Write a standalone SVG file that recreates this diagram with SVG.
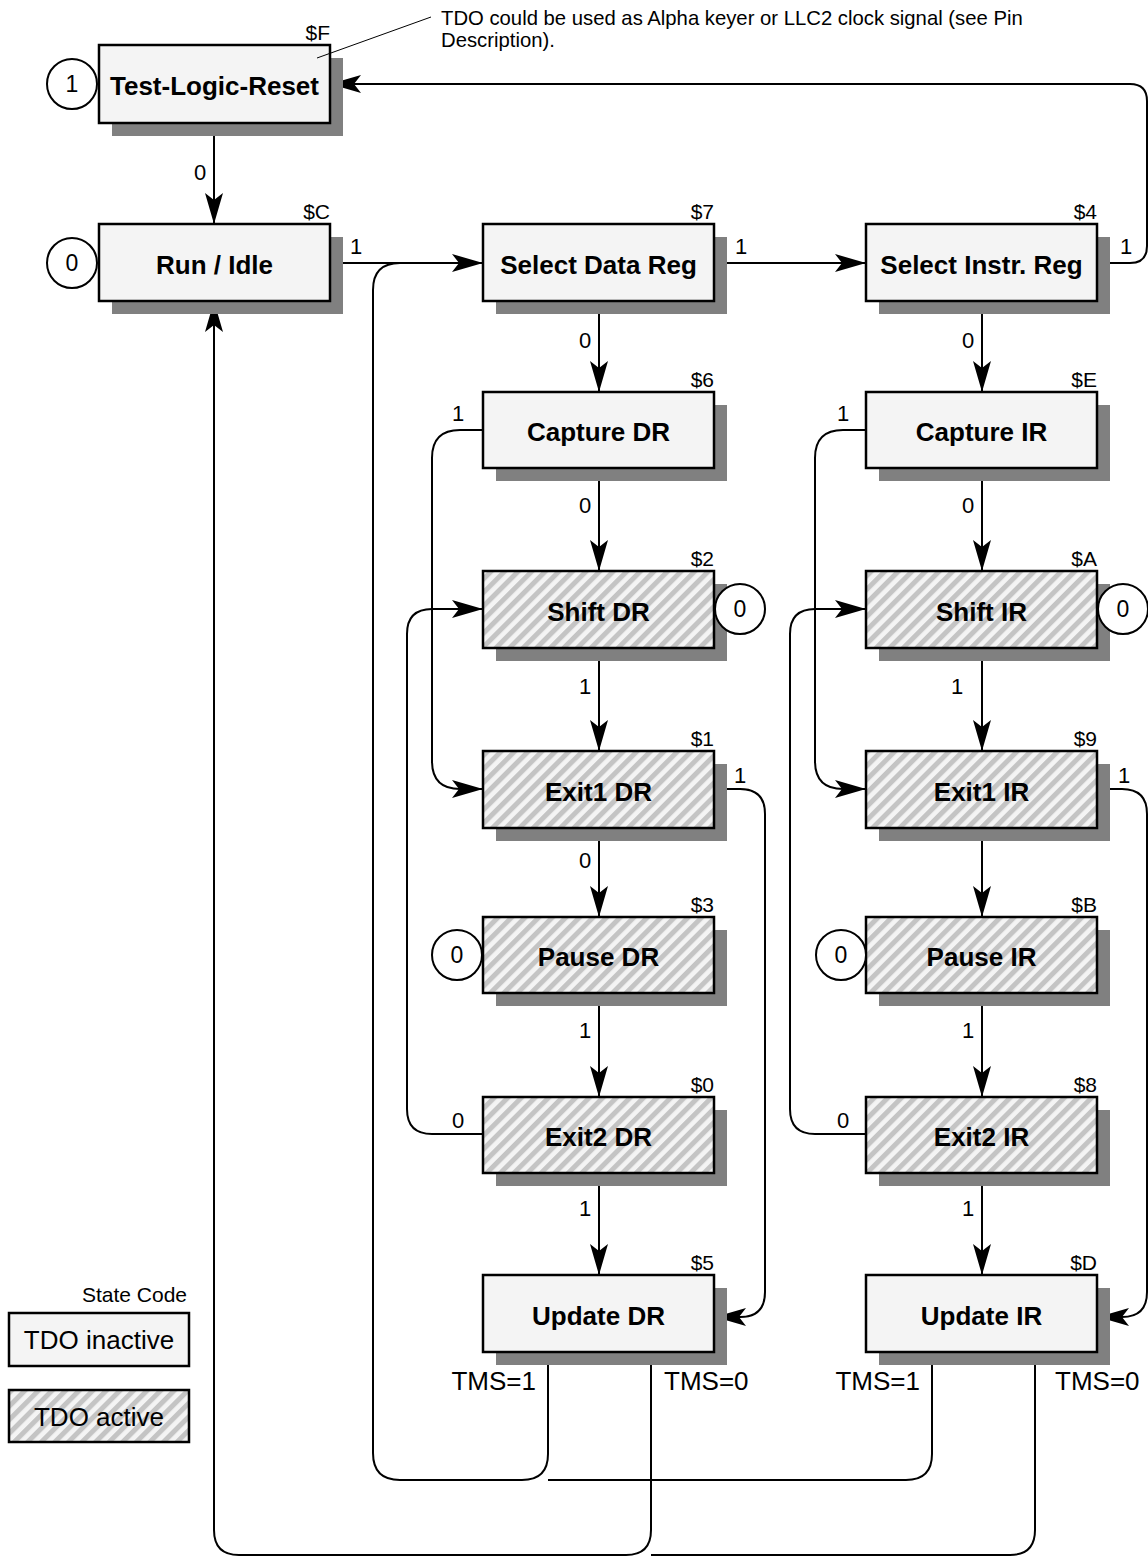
<svg xmlns="http://www.w3.org/2000/svg" width="1148" height="1557" viewBox="0 0 1148 1557">
<style>
.box{fill:#f4f4f4;stroke:#000;stroke-width:2.5}
.hb{fill:url(#hatch);stroke:#000;stroke-width:2.5}
.sh{fill:#808080}
.bl{font-family:"Liberation Sans",Arial,sans-serif;font-weight:bold;font-size:26px;text-anchor:middle;fill:#000}
.sm{font-family:"Liberation Sans",Arial,sans-serif;font-size:20.3px;fill:#000}
.code{font-family:"Liberation Sans",Arial,sans-serif;font-size:21px;text-anchor:end;fill:#000}
.lb{font-family:"Liberation Sans",Arial,sans-serif;font-size:22px;text-anchor:middle;fill:#000}
.big{font-family:"Liberation Sans",Arial,sans-serif;font-size:26px;fill:#000}
.cir{fill:#fff;stroke:#000;stroke-width:2}
.ct{font-family:"Liberation Sans",Arial,sans-serif;font-size:23px;text-anchor:middle;fill:#000}
.ln{fill:none;stroke:#000;stroke-width:2}
.ar{marker-end:url(#arr)}
</style>
<defs>
<pattern id="hatch" patternUnits="userSpaceOnUse" width="9.6" height="9.6" patternTransform="rotate(45)">
<rect x="0" y="0" width="9.6" height="9.6" fill="#f4f4f4"/>
<rect x="0" y="0" width="5" height="9.6" fill="#c4c4c4"/>
</pattern>
<marker id="arr" markerUnits="userSpaceOnUse" markerWidth="34" markerHeight="22" refX="31" refY="10" orient="auto" viewBox="0 0 34 22">
<path d="M0,1 L31,10 L0,19 L7,10 Z" fill="#000"/>
</marker>
</defs>

<g id="connectors">
<path class="ln ar" d="M214,123 V224"/>
<path class="ln ar" d="M330,263 H483"/>
<path class="ln ar" d="M715,263 H866"/>
<path class="ln ar" d="M1098,263 H1130 Q1147,263 1147,246 V101 Q1147,84 1130,84 H330"/>
<path class="ln ar" d="M599,301 V392"/>
<path class="ln ar" d="M599,468 V571"/>
<path class="ln ar" d="M599,648 V751"/>
<path class="ln ar" d="M599,828 V917"/>
<path class="ln ar" d="M599,993 V1097"/>
<path class="ln ar" d="M599,1173 V1275"/>
<path class="ln ar" d="M982,301 V392"/>
<path class="ln ar" d="M982,468 V571"/>
<path class="ln ar" d="M982,648 V751"/>
<path class="ln ar" d="M982,828 V917"/>
<path class="ln ar" d="M982,993 V1097"/>
<path class="ln ar" d="M982,1173 V1275"/>
<path class="ln ar" d="M483,430 H460 Q432,430 432,458 V761 Q432,789 460,789 H483"/>
<path class="ln ar" d="M866,430 H843 Q815,430 815,458 V761 Q815,789 843,789 H866"/>
<path class="ln ar" d="M483,1134 H432 Q407,1134 407,1109 V634 Q407,609 432,609 H483"/>
<path class="ln ar" d="M866,1134 H815 Q790,1134 790,1109 V634 Q790,609 815,609 H866"/>
<path class="ln ar" d="M715,789 H740 Q765,789 765,814 V1292 Q765,1317 740,1317 H715"/>
<path class="ln ar" d="M1098,789 H1122 Q1147,789 1147,814 V1292 Q1147,1317 1122,1317 H1098"/>
<path class="ln" d="M548,1352 V1454 Q548,1480 522,1480 H400 Q373,1480 373,1453 V290 Q373,263 400,263"/>
<path class="ln" d="M932,1352 V1454 Q932,1480 906,1480 H548"/>
<path class="ln ar" d="M651,1352 V1530 Q651,1555 626,1555 H239 Q214,1555 214,1530 V301"/>
<path class="ln" d="M1035,1352 V1530 Q1035,1555 1010,1555 H651"/>
<text class="lb" x="200" y="180">0</text>
<text class="lb" x="356" y="254">1</text>
<text class="lb" x="741" y="254">1</text>
<text class="lb" x="1126" y="254">1</text>
<text class="lb" x="585" y="348">0</text>
<text class="lb" x="968" y="348">0</text>
<text class="lb" x="458" y="421">1</text>
<text class="lb" x="843" y="421">1</text>
<text class="lb" x="585" y="513">0</text>
<text class="lb" x="968" y="513">0</text>
<text class="lb" x="585" y="694">1</text>
<text class="lb" x="957" y="694">1</text>
<text class="lb" x="740" y="783">1</text>
<text class="lb" x="1124" y="783">1</text>
<text class="lb" x="585" y="868">0</text>
<text class="lb" x="585" y="1038">1</text>
<text class="lb" x="968" y="1038">1</text>
<text class="lb" x="458" y="1128">0</text>
<text class="lb" x="843" y="1128">0</text>
<text class="lb" x="585" y="1216">1</text>
<text class="lb" x="968" y="1216">1</text>
<text class="big" x="536" y="1390" text-anchor="end">TMS=1</text>
<text class="big" x="664" y="1390">TMS=0</text>
<text class="big" x="920" y="1390" text-anchor="end">TMS=1</text>
<text class="big" x="1055" y="1390">TMS=0</text>
</g>

<g id="test-logic-reset">
<rect class="sh" x="112" y="58" width="231" height="78"/>
<rect class="box" x="99" y="45" width="231" height="78"/>
<text class="bl" x="214.5" y="95">Test-Logic-Reset</text>
<text class="code" x="330" y="40">$F</text>
<circle class="cir" cx="72" cy="84" r="25"/>
<text class="ct" x="72" y="92">1</text>
</g>

<g id="run-idle">
<rect class="sh" x="112" y="237" width="231" height="77"/>
<rect class="box" x="99" y="224" width="231" height="77"/>
<text class="bl" x="214.5" y="274">Run / Idle</text>
<text class="code" x="330" y="219">$C</text>
<circle class="cir" cx="72" cy="263" r="25"/>
<text class="ct" x="72" y="271">0</text>
</g>

<g id="select-dr">
<rect class="sh" x="496" y="237" width="231" height="77"/>
<rect class="box" x="483" y="224" width="231" height="77"/>
<text class="bl" x="598.5" y="274">Select Data Reg</text>
<text class="code" x="714" y="219">$7</text>
</g>

<g id="select-ir">
<rect class="sh" x="879" y="237" width="231" height="77"/>
<rect class="box" x="866" y="224" width="231" height="77"/>
<text class="bl" x="981.5" y="274">Select Instr. Reg</text>
<text class="code" x="1097" y="219">$4</text>
</g>

<g id="capture-dr">
<rect class="sh" x="496" y="405" width="231" height="76"/>
<rect class="box" x="483" y="392" width="231" height="76"/>
<text class="bl" x="598.5" y="441">Capture DR</text>
<text class="code" x="714" y="387">$6</text>
</g>

<g id="capture-ir">
<rect class="sh" x="879" y="405" width="231" height="76"/>
<rect class="box" x="866" y="392" width="231" height="76"/>
<text class="bl" x="981.5" y="441">Capture IR</text>
<text class="code" x="1097" y="387">$E</text>
</g>

<g id="shift-dr">
<rect class="sh" x="496" y="584" width="231" height="77"/>
<rect class="hb" x="483" y="571" width="231" height="77"/>
<text class="bl" x="598.5" y="621">Shift DR</text>
<text class="code" x="714" y="566">$2</text>
<circle class="cir" cx="740" cy="609" r="25"/>
<text class="ct" x="740" y="617">0</text>
</g>

<g id="shift-ir">
<rect class="sh" x="879" y="584" width="231" height="77"/>
<rect class="hb" x="866" y="571" width="231" height="77"/>
<text class="bl" x="981.5" y="621">Shift IR</text>
<text class="code" x="1097" y="566">$A</text>
<circle class="cir" cx="1123" cy="609" r="25"/>
<text class="ct" x="1123" y="617">0</text>
</g>

<g id="exit1-dr">
<rect class="sh" x="496" y="764" width="231" height="77"/>
<rect class="hb" x="483" y="751" width="231" height="77"/>
<text class="bl" x="598.5" y="801">Exit1 DR</text>
<text class="code" x="714" y="746">$1</text>
</g>

<g id="exit1-ir">
<rect class="sh" x="879" y="764" width="231" height="77"/>
<rect class="hb" x="866" y="751" width="231" height="77"/>
<text class="bl" x="981.5" y="801">Exit1 IR</text>
<text class="code" x="1097" y="746">$9</text>
</g>

<g id="pause-dr">
<rect class="sh" x="496" y="930" width="231" height="76"/>
<rect class="hb" x="483" y="917" width="231" height="76"/>
<text class="bl" x="598.5" y="966">Pause DR</text>
<text class="code" x="714" y="912">$3</text>
<circle class="cir" cx="457" cy="955" r="25"/>
<text class="ct" x="457" y="963">0</text>
</g>

<g id="pause-ir">
<rect class="sh" x="879" y="930" width="231" height="76"/>
<rect class="hb" x="866" y="917" width="231" height="76"/>
<text class="bl" x="981.5" y="966">Pause IR</text>
<text class="code" x="1097" y="912">$B</text>
<circle class="cir" cx="841" cy="955" r="25"/>
<text class="ct" x="841" y="963">0</text>
</g>

<g id="exit2-dr">
<rect class="sh" x="496" y="1110" width="231" height="76"/>
<rect class="hb" x="483" y="1097" width="231" height="76"/>
<text class="bl" x="598.5" y="1146">Exit2 DR</text>
<text class="code" x="714" y="1092">$0</text>
</g>

<g id="exit2-ir">
<rect class="sh" x="879" y="1110" width="231" height="76"/>
<rect class="hb" x="866" y="1097" width="231" height="76"/>
<text class="bl" x="981.5" y="1146">Exit2 IR</text>
<text class="code" x="1097" y="1092">$8</text>
</g>

<g id="update-dr">
<rect class="sh" x="496" y="1288" width="231" height="77"/>
<rect class="box" x="483" y="1275" width="231" height="77"/>
<text class="bl" x="598.5" y="1325">Update DR</text>
<text class="code" x="714" y="1270">$5</text>
</g>

<g id="update-ir">
<rect class="sh" x="879" y="1288" width="231" height="77"/>
<rect class="box" x="866" y="1275" width="231" height="77"/>
<text class="bl" x="981.5" y="1325">Update IR</text>
<text class="code" x="1097" y="1270">$D</text>
</g>

<g id="legend">
<text class="code" x="187" y="1302">State Code</text>
<rect class="box" x="9" y="1313" width="180" height="53"/>
<text class="big" x="99" y="1349" text-anchor="middle">TDO inactive</text>
<rect class="hb" x="9" y="1390" width="180" height="52"/>
<text class="big" x="99" y="1426" text-anchor="middle">TDO active</text>
</g>

<g id="note">
<line x1="317" y1="58" x2="431" y2="17" stroke="#000" stroke-width="1"/>
<text class="sm" x="441" y="25">TDO could be used as Alpha keyer or LLC2 clock signal (see Pin</text>
<text class="sm" x="441" y="47">Description).</text>
</g>
</svg>
